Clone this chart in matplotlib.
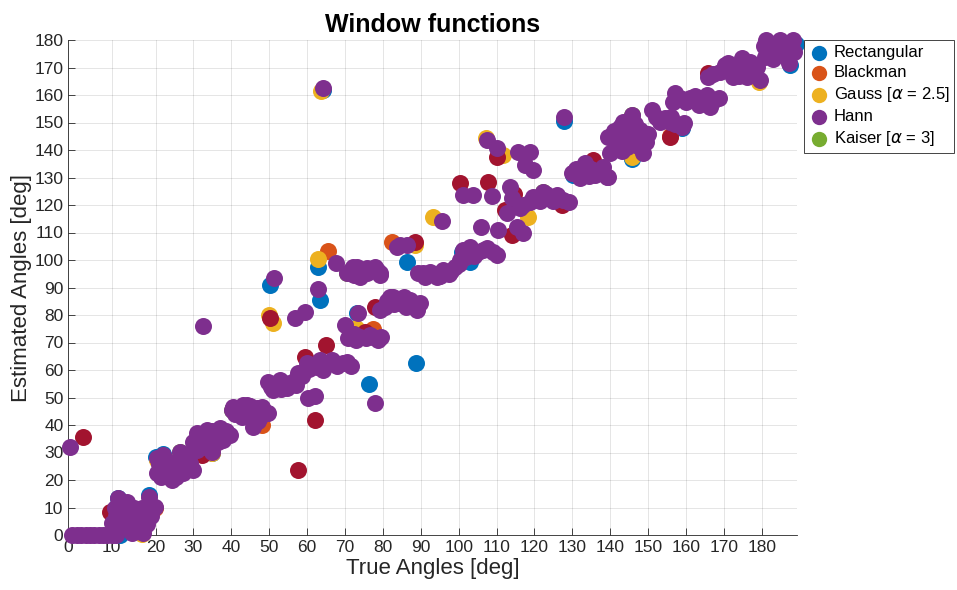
import numpy as np
import matplotlib
matplotlib.use("Agg")
import matplotlib.pyplot as plt

# Series data: (true angle, estimated angle) in degrees
hann_pts = [
    (0.4, 32.1), (0.8, 0), (2, 0), (3, 0), (4, 0), (5, 0), (6, 0), (7, 0), (8, 0), (9, 0), (10, 0), (11, 0),
    (10, 4.4), (11.5, 13.3), (12.3, 3), (13.4, 9.1), (14.6, 0.7), (15.7, 5.5), (17.2, 0.6), (17.8, 8),
    (18.6, 13.9), (19.9, 10.3), (11, 7), (12, 6), (16, 7), (18.5, 11), (10.8, 10), (16.5, 3),
    (13, 4), (14, 8), (15, 3), (16.8, 5), (18, 4), (12.5, 8), (13.5, 12), (15, 10), (17, 10), (19, 7),
    (20.3, 27.9), (22.1, 29.1), (20.3, 22.4), (24.3, 20), (26.5, 30.3), (29.1, 26.1), (24.7, 26.1),
    (22.1, 24.8), (27.3, 22.4), (30, 23.6), (28, 28), (23, 27),
    (21, 26), (23, 23), (25, 24), (26, 27), (28, 24.5), (25.5, 21), (21.5, 21), (27, 29.5),
    (30.9, 37), (33.5, 38.2), (37, 38.8), (39.7, 36.4), (35.3, 33.3), (32.6, 32.1), (30, 33.9),
    (34.8, 30.3), (37.9, 34.5), (36, 36), (31.5, 35),
    (31, 31), (32, 36), (34, 37), (35, 38), (36.5, 34), (38.5, 38), (33, 34), (38, 36.5), (34, 35.5),
    (40.1, 45.5), (43.2, 47.3), (46.7, 46.1), (49.3, 44.3), (42.7, 43), (45.8, 39.4), (47.6, 43),
    (40.5, 46.7), (44.1, 47.3), (47.6, 45.5), (49.8, 44.5),
    (41, 44), (42, 46), (44, 45.5), (45, 47), (46, 44.5), (48, 46.5), (47, 41.5), (43.5, 44.2),
    (49.8, 55.7), (52.9, 56.4), (55.5, 55.2), (57.7, 58.8), (58.6, 57.7), (51.1, 52.7), (54.6, 53.3),
    (50.5, 54), (52, 54.5), (53.5, 55.5), (56.5, 56), (57, 54.5), (53, 53),
    (60.3, 49.7), (62.1, 50.4),
    (59.9, 62.4), (63.4, 63.6), (66.5, 63.6), (69.6, 62.4), (64.3, 60), (61.5, 62), (68, 61.5),
    (60.5, 60.5), (62.5, 61), (65, 62.5), (67.5, 62.5), (70.5, 63), (71.5, 61.5),
    (32.5, 76), (51.4, 93.3), (56.8, 78.8), (59.5, 81.2), (63, 89.3), (67.6, 98.8), (64.2, 162.5),
    (70.5, 95.2), (73.1, 97.6), (75.7, 95.2), (77.9, 97.6), (79.3, 94.5), (74, 93.9), (75.7, 97), (79.2, 95.2),
    (71.5, 96.5), (72.5, 94.5), (74.5, 96), (76.8, 96.5), (78.5, 96.5), (72, 97.5),
    (83.7, 104.8), (86.3, 105.5), (84.5, 105.5), (90.7, 95.2),
    (79.2, 81.8), (81.9, 86.7), (84.5, 84.2), (87.2, 85.5), (88.9, 81.8), (89.8, 84.5), (82.8, 86.7), (86.3, 84.8),
    (80.5, 83), (83, 84), (85.5, 86.5), (86, 83), (88, 84), (81, 85),
    (73.5, 80.6), (70, 76.4),
    (70.9, 71.5), (74, 72.1), (76.6, 72.7), (78.8, 70.9), (72.5, 73), (77.9, 47.9),
    (71.5, 73), (73, 71), (75.5, 71.5), (77.5, 72), (79.5, 72),
    (89.4, 95.2), (92.4, 95.8), (96, 96.4), (99, 97.6), (101.2, 103.6), (103, 104.8), (106.5, 103.6),
    (109.2, 103), (100.4, 100), (94.2, 93.9), (97.5, 95),
    (91, 94), (93.5, 95), (95, 94.2), (98, 96), (100, 98.5), (102, 101), (104, 101.5), (105, 103),
    (107.5, 104.5), (110, 102),
    (107.4, 143.6), (110, 140.6), (115.8, 139.4), (118.8, 139.4), (117.5, 134.5), (119.7, 132.7),
    (101.2, 123.6), (103.9, 123.6), (108.7, 123.3), (113.6, 126.7), (114, 122.4),
    (95.5, 114.2), (105.8, 112.1),
    (110.5, 110.9), (112.7, 117), (115.3, 112.1), (117.1, 109.7),
    (116.2, 118.8), (118.8, 121.2), (122.3, 124.8), (125.9, 123.6), (129, 121.2), (120.5, 122), (124, 122.5),
    (117, 120), (121.5, 121.5), (123, 124), (127.5, 122), (125, 121.5), (119.5, 123),
    (129.8, 131.5), (133.8, 133.9), (137.3, 132.7), (139.5, 130.3), (130.3, 131.5), (133.4, 135.2),
    (139.1, 130.3), (136, 131),
    (131, 133), (132, 130), (135, 133), (138, 134), (134.5, 130.5), (132.5, 132.5),
    (127.8, 152.1), (139.5, 144.8),
    (140.8, 144.8), (143.5, 150.3), (145.7, 152.7), (147.9, 147.3), (144.4, 141.2), (148.7, 138.8),
    (140, 138.8), (142, 142.5),
    (141, 147), (142.5, 148.5), (144, 145.5), (146.5, 149.5), (146, 144), (149.5, 143), (147.3, 141.5),
    (143, 139.5), (150, 146),
    (151, 154.5), (153.1, 150.3), (155.8, 150.3), (158.9, 148.5),
    (152, 152), (154.5, 151.5), (157, 149.5), (156, 152), (159.5, 150),
    (157.1, 160.6), (156.7, 157.6), (161.1, 158.8), (165.5, 160), (168.6, 158.8), (166.3, 155.8),
    (158.5, 159), (160, 157.5), (162.5, 159.5), (164, 158.5), (167, 158), (163.5, 156.5),
    (165.9, 166.5), (170.3, 170.9), (174.7, 173.3), (178.7, 170.3), (179.5, 165.5), (172.5, 166.7), (176, 166.7),
    (167, 167.5), (169, 168.5), (171, 171.5), (173, 169), (175, 171), (177, 172), (174, 167), (178, 168),
    (181.2, 180), (184.7, 180), (188.2, 180), (183.8, 175.8), (187.3, 171.5), (181.8, 176), (185.5, 177),
    (180.5, 178), (182.5, 178), (184, 178.5), (186, 178), (187.8, 177), (183, 173), (185, 175),
    (186.5, 174), (188.5, 175.5), (182, 179), (180.8, 174),
]

rect_pts = [
    (50.2, 90.9), (63, 97.3), (63.4, 85.5), (76.3, 54.8), (88.8, 62.4), (86.3, 99.4), (11.9, 0),
    (127.8, 150.6), (187.5, 171), (189, 178.5),
    (11.4, 13.6), (20.1, 28.4), (22, 29.6), (34.8, 29.8), (18.6, 14.4), (103, 99.4), (73.3, 80.9),
    (145.7, 136.8), (158.9, 148), (130.3, 131), (64.2, 162), (101, 103), (142.5, 142),
]

blackman_pts = [
    (65.4, 103.4), (82.3, 106.7), (77.5, 75), (48, 40),
    (155.8, 145), (166.5, 167.5), (19.9, 10), (182, 178),
]

gauss_pts = [
    (50, 80), (51.1, 77), (62.8, 100.2), (88.4, 105.5), (111.8, 138.2), (93.2, 115.5), (72.9, 75.2),
    (118.4, 115.8), (63.8, 161.5), (107.1, 144.2), (179.3, 164.7), (183.5, 175), (145.7, 137.3),
    (20.3, 27.3), (35, 30), (17, 0.3),
]

kaiser_pts = [
    (40.1, 45.5), (70.5, 95.2), (145.7, 152.7), (26.5, 30.3), (122.3, 124.8),
]

# seventh series, not in the legend
extra_pts = [
    (3.5, 35.5), (57.7, 23.6), (62.1, 41.8), (64.9, 69.1), (32.2, 29.1), (9.6, 8.5), (50.3, 79),
    (88.5, 106.7), (100.4, 127.9), (107.8, 128.5), (110, 137.6), (112.3, 118.2), (114, 109.1),
    (127.2, 120), (135.5, 136.4), (165.9, 167.9), (155.8, 144.8), (75.4, 74), (59.5, 64.8),
    (77.9, 83), (114.5, 124),
]

x_ticks = list(range(0, 181, 10))
y_ticks = list(range(0, 181, 10))

# axis spacing as drawn in the reference (first two decades are wider)
scale_vals = [0, 10, 20, 200]
scale_pos = [0, 43.4, 87.2, 87.2 + 180 * 3.789]


def fwd(v):
    return np.interp(v, scale_vals, scale_pos)


def inv(p):
    return np.interp(p, scale_pos, scale_vals)


plt.rcParams["font.family"] = ["Liberation Sans", "DejaVu Sans"]

fig = plt.figure(figsize=(9.57, 5.90), dpi=100)
ax = fig.add_axes([68.3 / 957, 1 - 535 / 590, (797 - 68.3) / 957, (535 - 40) / 590])
ax.set_xscale("function", functions=(fwd, inv))

ms = 150
series = [
    (rect_pts, "#0072BD", "Rectangular"),
    (blackman_pts, "#D95319", "Blackman"),
    (gauss_pts, "#EDB120", r"Gauss [$\alpha$ = 2.5]"),
    (kaiser_pts, "#77AC30", r"Kaiser [$\alpha$ = 3]"),
    (extra_pts, "#A2142F", None),
    (hann_pts, "#7E2F8E", "Hann"),
]
handles = {}
for pts, col, lab in series:
    arr = np.array(pts)
    h = ax.scatter(arr[:, 0], arr[:, 1], s=ms, color=col, linewidths=0, zorder=3, clip_on=False)
    if lab:
        handles[lab] = h

order = ["Rectangular", "Blackman", r"Gauss [$\alpha$ = 2.5]", "Hann", r"Kaiser [$\alpha$ = 3]"]
leg = ax.legend([handles[k] for k in order], order, loc="upper left", bbox_to_anchor=(1.009, 1.0),
                borderaxespad=0, fancybox=False, edgecolor="#262626", fontsize=12,
                handletextpad=0.2, labelspacing=0.3, borderpad=0.3, handlelength=1.3,
                markerscale=0.9, framealpha=1)
leg.get_frame().set_linewidth(0.6)
leg.set_zorder(5)

ax.set_xlim(0, 189.3)
ax.set_ylim(0, 180)
ax.set_xticks(x_ticks)
ax.set_yticks(y_ticks)
ax.tick_params(direction="in", length=5, width=0.6, colors="#262626", labelsize=12.5,
               top=False, right=False)
ax.grid(True, color="#000000", alpha=0.12, linewidth=0.6)
ax.set_axisbelow(True)
for side in ["top", "right"]:
    ax.spines[side].set_visible(False)
for side in ["left", "bottom"]:
    ax.spines[side].set_color("#262626")
    ax.spines[side].set_linewidth(0.6)

ax.set_title("Window functions", fontsize=18, fontweight="bold", pad=6)
ax.set_xlabel("True Angles [deg]", fontsize=16, color="#262626", labelpad=2)
ax.set_ylabel("Estimated Angles [deg]", fontsize=16, color="#262626", labelpad=2)

fig.savefig("out.png", dpi=100)
